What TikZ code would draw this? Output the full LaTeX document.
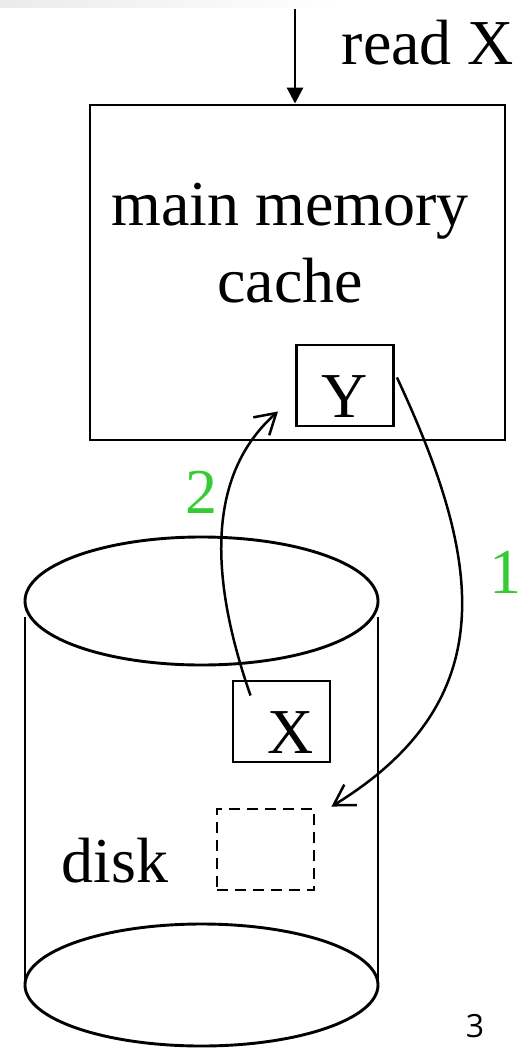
\documentclass[tikz,border=0pt]{standalone}
\usepackage{fontspec}
\setmainfont{Liberation Serif}
\newfontfamily\pagefont{Open Sans}
\usepackage{xcolor}
\usetikzlibrary{arrows.meta,positioning,calc}
\definecolor{stepGreen}{RGB}{51,204,51}

\begin{document}
\begin{tikzpicture}[
            x=1pt, y=-1pt,
            line width=2.9pt,
            word/.style={inner sep=0pt, font=\fontsize{64}{77}\selectfont},
            cell/.style={draw, rectangle, inner sep=0pt, minimum width=97pt, minimum height=81pt},
            fetch/.style={-{Straight Barb[length=20pt,width=24pt,line width=2.5pt]}, line width=2.5pt},
            stepnum/.style={word, text=stepGreen}
        ]
            \useasboundingbox (0,0) rectangle (530,1048);
            \shade[left color=black!8, right color=white, draw=none] (0,0) rectangle (340,8);

            % main memory
            \node[draw, rectangle, inner sep=0pt, minimum width=415pt, minimum height=335pt] (mem) at (297.5,272.5) {};
            \node[word, align=center, anchor=base] (memtext) at (290,302) {main memory\\cache};
            \node[cell] (ybox) at (345,385.5) {};
            \node[word, anchor=base] (ytext) at (345,417) {Y};

            \coordinate (readin) at (295,9);
            \draw[-{Triangle[length=16pt,width=16pt]}] (readin) -- (readin |- mem.north);
            \node[word, anchor=base] (readtext) at (428,65) {read X};

            % disk
            \draw (201.5,601) ellipse [x radius=176.5, y radius=64];
            \draw (25,617) -- (25,985);
            \draw (378,617) -- (378,985);
            \draw (201.5,985) ellipse [x radius=176.5, y radius=61];
            \node[word, anchor=base] (disktext) at (115,882) {disk};
            \node[cell] (xbox) at (281.5,721.5) {};
            \node[word, anchor=base] (xtext) at (291,753) {X};
            \node[cell, dashed, dash pattern=on 11pt off 7pt] (slot) at (265.5,849.5) {};

            % steps
            \coordinate (ysrc) at ($(ybox.east)+(2,-8)$);
            \coordinate (slotin) at ($(slot.north east)+(16,-1)$);
            \coordinate (xsrc) at ($(xbox.north west)+(19,16)$);
            \coordinate (yin) at ($(ybox.south west)+(-17,-16)$);
            \draw[fetch] (ysrc) .. controls (482,560) and (505,700) .. (slotin);
            \draw[fetch] (xsrc) .. controls (205,565) and (212,470) .. (yin);
            \node[stepnum, anchor=base] (one) at (505,593) {1};
            \node[stepnum, anchor=base] (two) at (201,513) {2};

            \node[inner sep=0pt, anchor=base, font=\pagefont\fontsize{32}{38}\selectfont] (page) at (475,1037) {3};
        \end{tikzpicture}
\end{document}
